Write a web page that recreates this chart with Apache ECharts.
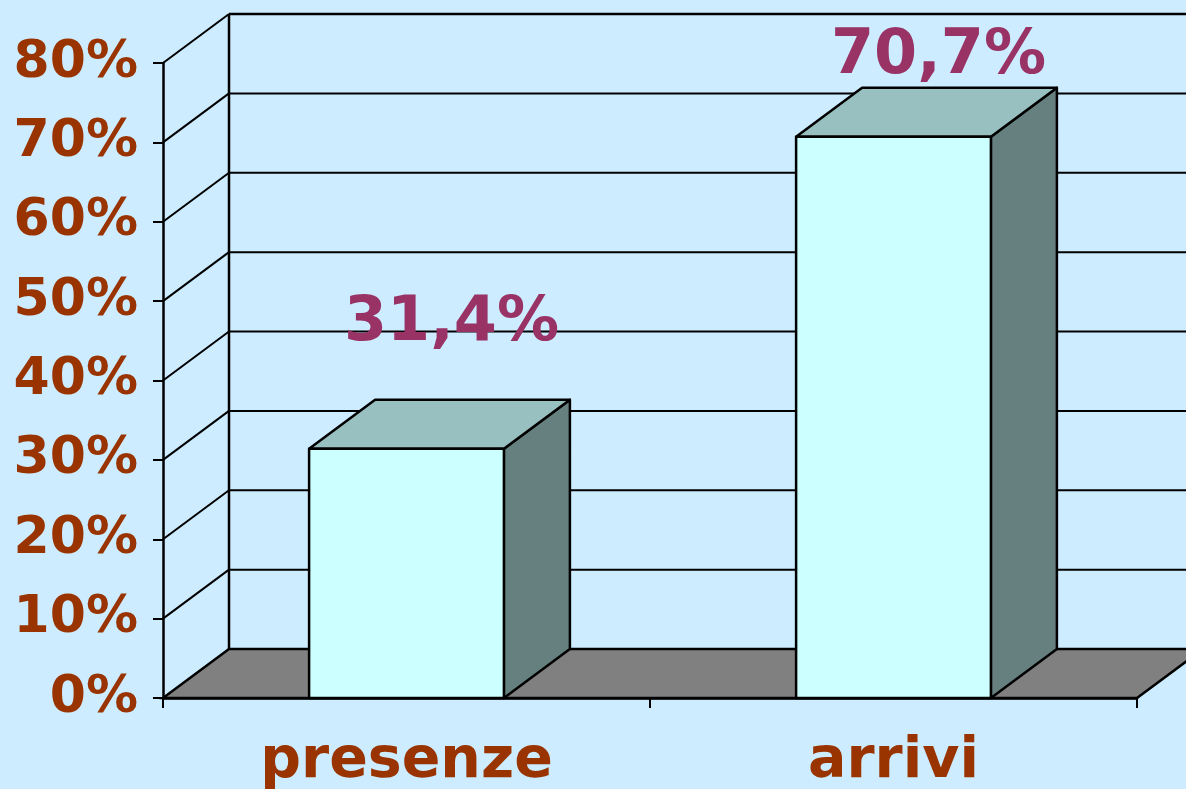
<!DOCTYPE html>
<html>
<head>
<meta charset="utf-8">
<title>presenze / arrivi</title>
<script src="https://cdn.jsdelivr.net/npm/echarts@6/dist/echarts.min.js"></script>
<style>
  html, body { margin: 0; padding: 0; background: #cdecff; }
  #chart { width: 1186px; height: 789px; }
</style>
</head>
<body>
<div id="chart"></div>
<script>
// data
const categories = ['presenze', 'arrivi'];
const values = [0.314, 0.707];
const valueLabels = ['31,4%', '70,7%'];
const yTicks = [0, 0.1, 0.2, 0.3, 0.4, 0.5, 0.6, 0.7, 0.8];

// 3d look
const DX = 66;          // depth offset to the right
const DY = 49;          // depth offset upwards
const BAR_RATIO = 0.4;  // bar width / category band
const labelLift = [94, 49];  // how far the value text sits above the bar front top
const labelShift = 45;

const FONT = '"DejaVu Sans", Verdana, sans-serif';
const AXIS_COLOR = '#993300';
const LABEL_COLOR = '#993366';

const chart = echarts.init(document.getElementById('chart'));

// back wall, left wall and floor
function renderWalls(params, api) {
  const rect = params.coordSys;
  const v = api.value(0);
  const y = api.coord([0, v])[1];
  const left = rect.x;
  const right = rect.x + rect.width;
  const children = [];
  if (v === 0) {
    children.push({
      type: 'polygon',
      shape: { points: [[left, y], [right, y], [right + DX, y - DY], [left + DX, y - DY]] },
      style: { fill: '#808080', stroke: '#000', lineWidth: 2.5 }
    });
    // back corner of the two walls
    children.push({
      type: 'line',
      shape: { x1: left + DX, y1: y - DY, x2: left + DX, y2: rect.y - DY },
      style: { stroke: '#000', lineWidth: 2.5 }
    });
  } else {
    children.push({
      type: 'line',
      shape: { x1: left, y1: y, x2: left + DX, y2: y - DY },
      style: { stroke: '#000', lineWidth: 2 }
    });
    children.push({
      type: 'line',
      shape: { x1: left + DX, y1: y - DY, x2: right + DX, y2: y - DY },
      style: { stroke: '#000', lineWidth: v === 0.8 ? 2.5 : 2 }
    });
  }
  return { type: 'group', children: children };
}

function renderBar(params, api) {
  const i = api.value(0);
  const v = api.value(1);
  const top = api.coord([i, v]);
  const base = api.coord([i, 0]);
  const w = api.size([1, 0])[0] * BAR_RATIO;
  const x0 = top[0] - w / 2;
  const x1 = top[0] + w / 2;
  const edge = { stroke: '#000', lineWidth: 2.5, lineJoin: 'round' };
  return {
    type: 'group',
    children: [
      {
        type: 'polygon',
        shape: { points: [[x1, base[1]], [x1 + DX, base[1] - DY], [x1 + DX, top[1] - DY], [x1, top[1]]] },
        style: Object.assign({ fill: '#668080' }, edge)
      },
      {
        type: 'polygon',
        shape: { points: [[x0, top[1]], [x0 + DX, top[1] - DY], [x1 + DX, top[1] - DY], [x1, top[1]]] },
        style: Object.assign({ fill: '#99c0c0' }, edge)
      },
      {
        type: 'rect',
        shape: { x: x0, y: top[1], width: w, height: base[1] - top[1] },
        style: Object.assign({ fill: '#ccffff' }, edge)
      },
      {
        type: 'text',
        x: top[0] + labelShift,
        y: top[1] - labelLift[i],
        style: {
          text: valueLabels[i],
          fill: LABEL_COLOR,
          font: 'bold 62px ' + FONT,
          align: 'center',
          verticalAlign: 'bottom'
        }
      }
    ]
  };
}

const option = {
  backgroundColor: '#cdecff',
  animation: false,
  grid: { left: 163, right: 49, top: 63, bottom: 91, outerBoundsMode: 'none' },
  xAxis: {
    type: 'category',
    data: categories,
    boundaryGap: true,
    axisLine: { lineStyle: { color: '#000', width: 2.5 } },
    axisTick: { show: true, length: 10, lineStyle: { color: '#000', width: 2 } },
    axisLabel: {
      color: AXIS_COLOR,
      fontFamily: FONT,
      fontWeight: 'bold',
      fontSize: 57,
      margin: 36
    }
  },
  yAxis: {
    type: 'value',
    min: 0,
    max: 0.8,
    interval: 0.1,
    axisLine: { show: true, lineStyle: { color: '#000', width: 2.5 } },
    axisTick: { show: true, length: 10, lineStyle: { color: '#000', width: 2 } },
    splitLine: { show: false },
    axisLabel: {
      color: AXIS_COLOR,
      fontFamily: FONT,
      fontWeight: 'bold',
      fontSize: 52,
      margin: 25,
      padding: [8, 0, 0, 0],
      formatter: function (v) { return Math.round(v * 100) + '%'; }
    }
  },
  series: [
    {
      type: 'custom',
      name: 'walls',
      renderItem: renderWalls,
      data: yTicks.map(function (t) { return [t]; }),
      encode: { y: 0 },
      clip: false,
      silent: true,
      z: 1
    },
    {
      type: 'custom',
      name: 'bars',
      renderItem: renderBar,
      data: values.map(function (v, i) { return [i, v]; }),
      encode: { x: 0, y: 1 },
      clip: false,
      z: 3
    }
  ]
};

chart.setOption(option);
</script>
</body>
</html>
